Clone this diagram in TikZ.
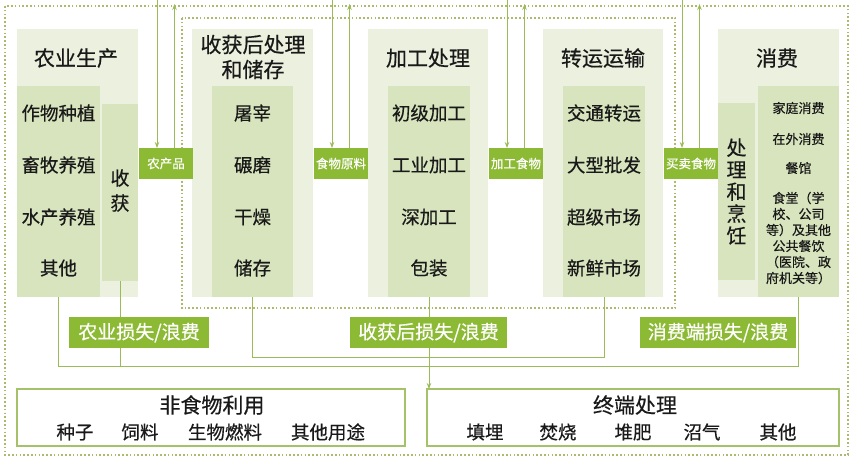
\documentclass[tikz,border=0pt]{standalone}
\usepackage{fontspec}
\setmainfont{Noto Sans CJK SC}[FakeBold=0.5]
\usetikzlibrary{arrows.meta}
\definecolor{lightbox}{RGB}{235,241,222}
\definecolor{itembox}{RGB}{215,228,189}
\definecolor{labelgreen}{RGB}{140,186,52}
\definecolor{linegreen}{RGB}{155,187,89}
\definecolor{dotgreen}{RGB}{175,185,110}
\definecolor{txt}{RGB}{25,25,25}
\tikzset{
  stagebox/.style={fill=lightbox,draw=none,inner sep=0pt,outer sep=0pt,anchor=north west},
  itemsbox/.style={fill=itembox,draw=none,inner sep=0pt,outer sep=0pt,anchor=north west},
  flowlabel/.style={fill=labelgreen,draw=none,inner sep=0pt,outer sep=0pt,anchor=north west,text=white,font=\fontsize{12.5}{14}\selectfont},
  losslabel/.style={fill=labelgreen,draw=none,inner sep=0pt,outer sep=0pt,anchor=north west,text=white,font=\fontsize{19}{20}\selectfont},
  endbox/.style={fill=white,draw=linegreen!90!white,line width=1.6pt,inner sep=0pt,outer sep=0pt,anchor=north west},
  titletext/.style={text=txt,font=\fontsize{21}{25}\selectfont,inner sep=0pt,align=center},
  itemtext/.style={text=txt,font=\fontsize{18.5}{20}\selectfont,inner sep=0pt},
  smalltext/.style={text=txt,font=\fontsize{13}{16}\selectfont,inner sep=0pt,align=center},
  conn/.style={draw=linegreen,line width=0.9pt},
  arr/.style={conn,-{Stealth[length=6pt,width=4.5pt]}},
  dotframe/.style={draw=dotgreen,line width=1.5pt,dash pattern=on 1.6pt off 2.2pt},
}
\begin{document}
\begin{tikzpicture}[x=1pt,y=-1pt]
\useasboundingbox[fill=white] (0,0) rectangle (854,464);
% frames
\draw[dotframe] (5,6) rectangle (848,455);
\draw[dotframe] (182,18) rectangle (675,308);
% stage boxes
\node[stagebox,minimum width=121pt,minimum height=268pt] (s1) at (17,29) {};
\node[stagebox,minimum width=121pt,minimum height=268pt] (s2) at (192,29) {};
\node[stagebox,minimum width=120pt,minimum height=268pt] (s3) at (368,29) {};
\node[stagebox,minimum width=120pt,minimum height=268pt] (s4) at (543,29) {};
\node[stagebox,minimum width=121pt,minimum height=268pt] (s5) at (718,29) {};
% inner boxes
\node[itemsbox,minimum width=83pt,minimum height=211pt] (i1) at (17,86) {};
\node[itemsbox,minimum width=36pt,minimum height=177pt] (h1) at (102,104) {};
\node[itemsbox,minimum width=81pt,minimum height=211pt] (i2) at (212,86) {};
\node[itemsbox,minimum width=82pt,minimum height=211pt] (i3) at (388,86) {};
\node[itemsbox,minimum width=82pt,minimum height=211pt] (i4) at (563,86) {};
\node[itemsbox,minimum width=37pt,minimum height=177pt] (c5) at (718,103) {};
\node[itemsbox,minimum width=81pt,minimum height=211pt] (i5) at (758,86) {};
% titles
\node[titletext] (t1) at (76,58) {农业生产};
\node[titletext] (t2) at (253,57) {收获后处理\\和储存};
\node[titletext] (t3) at (428,58) {加工处理};
\node[titletext] (t4) at (603,58) {转运运输};
\node[titletext] (t5) at (777,58) {消费};
% items
\node[itemtext] (a1) at (58.5,113) {作物种植};
\node[itemtext] (a2) at (58.5,165) {畜牧养殖};
\node[itemtext] (a3) at (58.5,217) {水产养殖};
\node[itemtext] (a4) at (58.5,268) {其他};
\node[itemtext,align=center,font=\fontsize{19}{25}\selectfont] (hv) at (120,190.5) {收\\获};
\node[itemtext] (b1) at (252.5,113) {屠宰};
\node[itemtext] (b2) at (252.5,165) {碾磨};
\node[itemtext] (b3) at (252.5,217) {干燥};
\node[itemtext] (b4) at (252.5,268) {储存};
\node[itemtext] (p1) at (429,113) {初级加工};
\node[itemtext] (p2) at (429,165) {工业加工};
\node[itemtext] (p3) at (429,217) {深加工};
\node[itemtext] (p4) at (429,268) {包装};
\node[itemtext] (r1) at (604,113) {交通转运};
\node[itemtext] (r2) at (604,165) {大型批发};
\node[itemtext] (r3) at (604,217) {超级市场};
\node[itemtext] (r4) at (604,268) {新鲜市场};
\node[itemtext,align=center,font=\fontsize{20}{22}\selectfont] (cv) at (736.5,191.5) {处\\理\\和\\烹\\饪};
\node[smalltext] (e1) at (798.5,108) {家庭消费};
\node[smalltext] (e2) at (798.5,139) {在外消费};
\node[smalltext] (e3) at (798.5,168) {餐馆};
\node[smalltext] (e4) at (798.5,238) {食堂（学\\校、公司\\等）及其他\\公共餐饮\\（医院、政\\府机关等）};
% flow labels
\node[flowlabel,minimum width=54pt,minimum height=31pt] (l1) at (139,148) {农产品};
\node[flowlabel,minimum width=54pt,minimum height=31pt] (l2) at (314,148) {食物原料};
\node[flowlabel,minimum width=54pt,minimum height=31pt] (l3) at (489,148) {加工食物};
\node[flowlabel,minimum width=54pt,minimum height=31pt] (l4) at (664,148) {买卖食物};
% arrows to/from labels
\coordinate (top) at (0,0);
\coordinate (topup) at (0,4);
\foreach \l in {l1,l2,l3,l4}{
  \draw[arr] ([xshift=-9pt]\l.north |- top) -- ([xshift=-9pt]\l.north);
  \draw[arr] ([xshift=8.5pt]\l.north) -- ([xshift=8.5pt]\l.north |- topup);
}
% bottom boxes
\node[endbox,minimum width=388pt,minimum height=57pt] (nf) at (17,389) {};
\node[endbox,minimum width=412pt,minimum height=57pt] (ed) at (427,389) {};
% connectors
\coordinate (yA) at (0,366);
\coordinate (yB) at (0,357);
\draw[conn] (i1.south) -- (i1.south |- yA) -- (i5.south |- yA) -- (i5.south);
\draw[conn] (h1.south) -- (h1.south |- yA);
\draw[conn] (i2.south) -- (i2.south |- yB) -- (i4.south |- yB) -- (i4.south);
\draw[arr] (i3.south) -- (i3.south |- ed.north);
% loss labels
\node[losslabel,minimum width=140pt,minimum height=31pt] (ll1) at (69,317) {农业损失/浪费};
\node[losslabel,minimum width=157pt,minimum height=31pt] (ll2) at (350,317) {收获后损失/浪费};
\node[losslabel,minimum width=156pt,minimum height=31pt] (ll3) at (640,317) {消费端损失/浪费};
% bottom texts
\node[titletext] (nft) at (212,405) {非食物利用};
\node[itemtext] (n1) at (75,432) {种子};
\node[itemtext] (n2) at (140,432) {饲料};
\node[itemtext] (n3) at (225,432) {生物燃料};
\node[itemtext] (n4) at (328,432) {其他用途};
\node[titletext] (edt) at (635,405) {终端处理};
\node[itemtext] (d1) at (485,432) {填埋};
\node[itemtext] (d2) at (558,432) {焚烧};
\node[itemtext] (d3) at (633,432) {堆肥};
\node[itemtext] (d4) at (702,432) {沼气};
\node[itemtext] (d5) at (778,432) {其他};
\end{tikzpicture}
\end{document}
